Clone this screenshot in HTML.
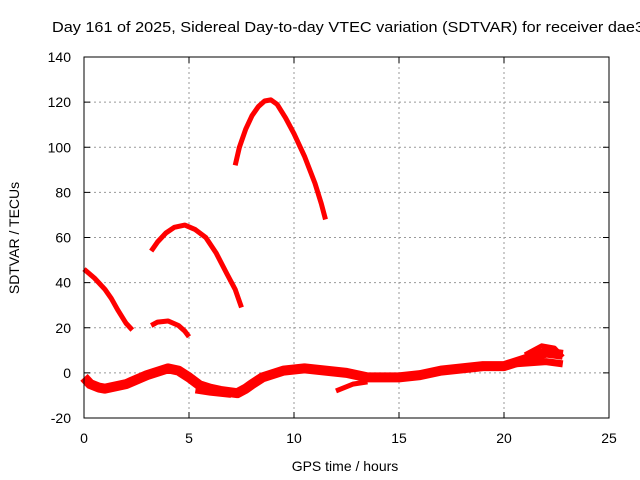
<!DOCTYPE html>
<html><head><meta charset="utf-8"><style>
body{margin:0;background:#fff;}
svg{display:block;font-family:"Liberation Sans",sans-serif;}
</style></head><body>
<svg id="chart" width="640" height="480">
<text x="52" y="32" font-size="15" textLength="592" lengthAdjust="spacingAndGlyphs">Day 161 of 2025, Sidereal Day-to-day VTEC variation (SDTVAR) for receiver dae3</text>
<text x="345" y="471" font-size="14" text-anchor="middle">GPS time / hours</text>
<text transform="translate(19,238) rotate(-90)" font-size="14" text-anchor="middle">SDTVAR / TECUs</text>
<g id="grid"></g><g id="series"></g>
<rect x="84" y="57" width="525" height="361" fill="none" stroke="#000" stroke-width="1"/>
</svg>
<script>
const xTicks=[0,5,10,15,20,25];
const yTicks=[-20,0,20,40,60,80,100,120,140];
const segA=[[0,46],[0.5,42],[1,37],[1.3,33],[1.6,28],[2,22],[2.3,19]];
const segB=[[3.2,21],[3.5,22.5],[4,23],[4.5,21],[4.8,18.5],[5,16]];
const segC=[[3.2,54],[3.5,58],[3.9,62],[4.3,64.5],[4.8,65.5],[5.3,63.5],[5.8,60],[6.3,53],[6.8,44],[7.2,37],[7.5,29]];
const segD=[[7.2,92],[7.4,100],[7.7,108],[8,114],[8.3,118],[8.6,120.5],[8.9,121],[9.2,119],[9.6,113],[10,106],[10.5,96],[11,84],[11.3,75],[11.5,68]];
const band=[[0,-2],[0.3,-5],[0.7,-6.5],[1,-7],[1.5,-6],[2,-5],[2.5,-3],[3,-1],[3.5,0.5],[4,2],[4.5,1],[5,-2],[5.5,-5.5],[6,-7],[6.5,-8],[7.3,-9],[7.7,-7],[8,-5],[8.5,-2],[9,-0.5],[9.5,1],[10,1.5],[10.5,2],[11.5,1],[12.5,0],[13.5,-2],[15,-2],[16,-1],[17,1],[18,2],[19,3],[20,3],[21,6],[22,9],[22.8,8]];
const bandLow1=[[5.3,-8],[6,-9],[7,-10]];
const bandLow2=[[12,-8],[12.8,-5],[13.5,-4]];
const bandLow3=[[20.5,4],[22,5],[22.8,4]];
const bandHigh=[[21,8],[21.8,12],[22.4,11],[22.8,7]];
const xs=h=>84+21*h, ys=v=>418-(v+20)*361/160;
const NS='http://www.w3.org/2000/svg';
const grid=document.getElementById('grid'), ser=document.getElementById('series');
function mk(tag,attrs,parent){const e=document.createElementNS(NS,tag);for(const k in attrs)e.setAttribute(k,attrs[k]);parent.appendChild(e);return e;}
xTicks.forEach(t=>{const x=xs(t);
 if(t>0&&t<25){const g=mk('line',{x1:x,x2:x,y1:57,y2:418,stroke:'#999','stroke-dasharray':'2,3'},grid);
 
 }
 mk('line',{x1:x,x2:x,y1:418,y2:412,stroke:'#000'},grid);mk('line',{x1:x,x2:x,y1:57,y2:63,stroke:'#000'},grid);
 const l=mk('text',{x:x,y:443,'font-size':14,'text-anchor':'middle'},grid);l.textContent=t;
 
 });
yTicks.forEach(t=>{const y=ys(t);
 if(t>-20&&t<140){const g=mk('line',{x1:84,x2:609,y1:y,y2:y,stroke:'#999','stroke-dasharray':'2,3'},grid);
 
 }
 mk('line',{x1:84,x2:90,y1:y,y2:y,stroke:'#000'},grid);mk('line',{x1:609,x2:603,y1:y,y2:y,stroke:'#000'},grid);
 const l=mk('text',{x:71,y:y+5,'font-size':14,'text-anchor':'end'},grid);l.textContent=t;
 
 });
function draw(pts,w,name){const p=mk('polyline',{points:pts.map(d=>xs(d[0])+','+ys(d[1])).join(' '),fill:'none',stroke:'#f00','stroke-width':w,'stroke-linejoin':'round','stroke-linecap':'butt'},ser);
 
 }
draw(segA,5,'series-arc-a');draw(segB,5,'series-arc-b');draw(segC,5,'series-arc-c');draw(segD,5,'series-arc-d');
draw(band,10,'series-band');draw(bandLow1,5,'series-band-low-1');draw(bandLow2,5,'series-band-low-2');draw(bandLow3,7,'series-band-low-3');draw(bandHigh,5,'series-band-high');
</script>
</body></html>
